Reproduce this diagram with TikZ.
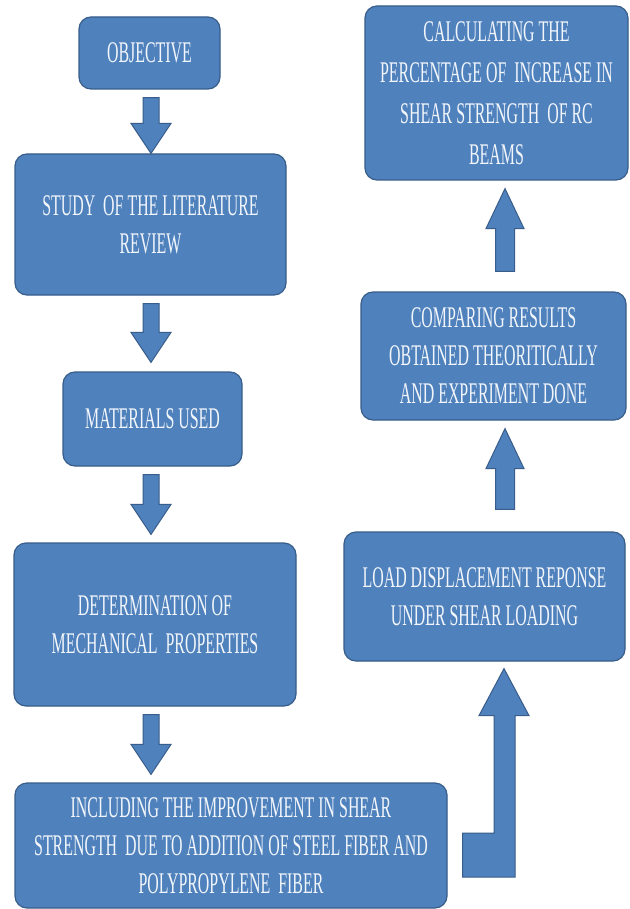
\documentclass[tikz,border=0pt]{standalone}
\usepackage{fontspec}
\setmainfont[FakeStretch=0.53]{Liberation Serif}
\usetikzlibrary{calc}
\definecolor{boxfill}{HTML}{4F81BD}
\definecolor{boxline}{HTML}{385D8A}
\definecolor{boxtext}{HTML}{F2F6FB}
\tikzset{
  box/.style={draw=boxline, fill=boxfill, line width=1.2pt, rounded corners=12pt,
    inner sep=0pt, align=center, text=boxtext,
    font=\fontsize{30}{38}\selectfont},
  blk/.style={draw=boxline, fill=boxfill, line width=1pt, line join=miter}
}
% down block arrow: from node, to node, centre x, gap above tip
\newcommand\dnblock[4]{%
  \draw[blk] let \p1=(#1.south), \p2=(#2.north) in
    (#3pt-8pt,\y1-8pt) -- (#3pt+8pt,\y1-8pt) -- (#3pt+8pt,\y2+#4pt+30pt)
    -- (#3pt+20pt,\y2+#4pt+30pt) -- (#3pt,\y2+#4pt) -- (#3pt-20pt,\y2+#4pt+30pt)
    -- (#3pt-8pt,\y2+#4pt+30pt) -- cycle;}
% up block arrow: lower node, upper node, centre x, gap below shaft, gap above tip
\newcommand\upblock[5]{%
  \draw[blk] let \p1=(#1.north), \p2=(#2.south) in
    (#3pt-9.5pt,\y1+#4pt) -- (#3pt+9.5pt,\y1+#4pt) -- (#3pt+9.5pt,\y2-#5pt-40pt)
    -- (#3pt+19pt,\y2-#5pt-40pt) -- (#3pt,\y2-#5pt) -- (#3pt-19pt,\y2-#5pt-40pt)
    -- (#3pt-9.5pt,\y2-#5pt-40pt) -- cycle;}
\begin{document}
\begin{tikzpicture}[x=1pt,y=-1pt]
\fill[white] (0,0) rectangle (629,909);
\useasboundingbox (0,0) rectangle (629,909);

\node[box, minimum width=141pt, minimum height=72pt] (obj) at (149.5,53) {OBJECTIVE};
\node[box, minimum width=271pt, minimum height=141pt] (study) at (150.5,224.5)
  {STUDY\ \ OF THE LITERATURE\\REVIEW};
\node[box, minimum width=179pt, minimum height=94pt] (mat) at (152.5,419) {MATERIALS USED};
\node[box, minimum width=282pt, minimum height=163pt] (det) at (155,624.5)
  {DETERMINATION OF\\MECHANICAL\ \ PROPERTIES};
\node[box, minimum width=432pt, minimum height=125pt] (inc) at (231,845.5)
  {INCLUDING THE IMPROVEMENT IN SHEAR\\STRENGTH\ \ DUE TO ADDITION OF STEEL FIBER AND\\POLYPROPYLENE\ \ FIBER};
\node[box, minimum width=281pt, minimum height=129pt] (load) at (484.5,596.5)
  {LOAD DISPLACEMENT REPONSE\\UNDER SHEAR LOADING};
\node[box, minimum width=265pt, minimum height=128pt] (comp) at (493.5,356)
  {COMPARING RESULTS\\OBTAINED THEORITICALLY\\AND EXPERIMENT DONE};
\node[box, minimum width=263pt, minimum height=174pt, font=\fontsize{30}{41}\selectfont] (calc) at (496.5,93)
  {CALCULATING THE\\PERCENTAGE OF\ \ INCREASE IN\\SHEAR STRENGTH\ \ OF RC\\BEAMS};

\dnblock{obj}{study}{151}{0}
\dnblock{study}{mat}{151}{9}
\dnblock{mat}{det}{151}{8}
\dnblock{det}{inc}{151}{8}

% bent arrow from inc to load
\draw[blk] let \p1=(inc.east), \p2=(load.south) in
  (\x1+15pt,-877pt) -- (515pt,-877pt) -- (515pt,\y2-7pt-47pt) -- (529pt,\y2-7pt-47pt)
  -- (504pt,\y2-7pt) -- (479pt,\y2-7pt-47pt) -- (494pt,\y2-7pt-47pt)
  -- (494pt,-833pt) -- (\x1+15pt,-833pt) -- cycle;

\upblock{load}{comp}{505}{22}{8}
\upblock{comp}{calc}{505}{20}{8}
\end{tikzpicture}
\end{document}
